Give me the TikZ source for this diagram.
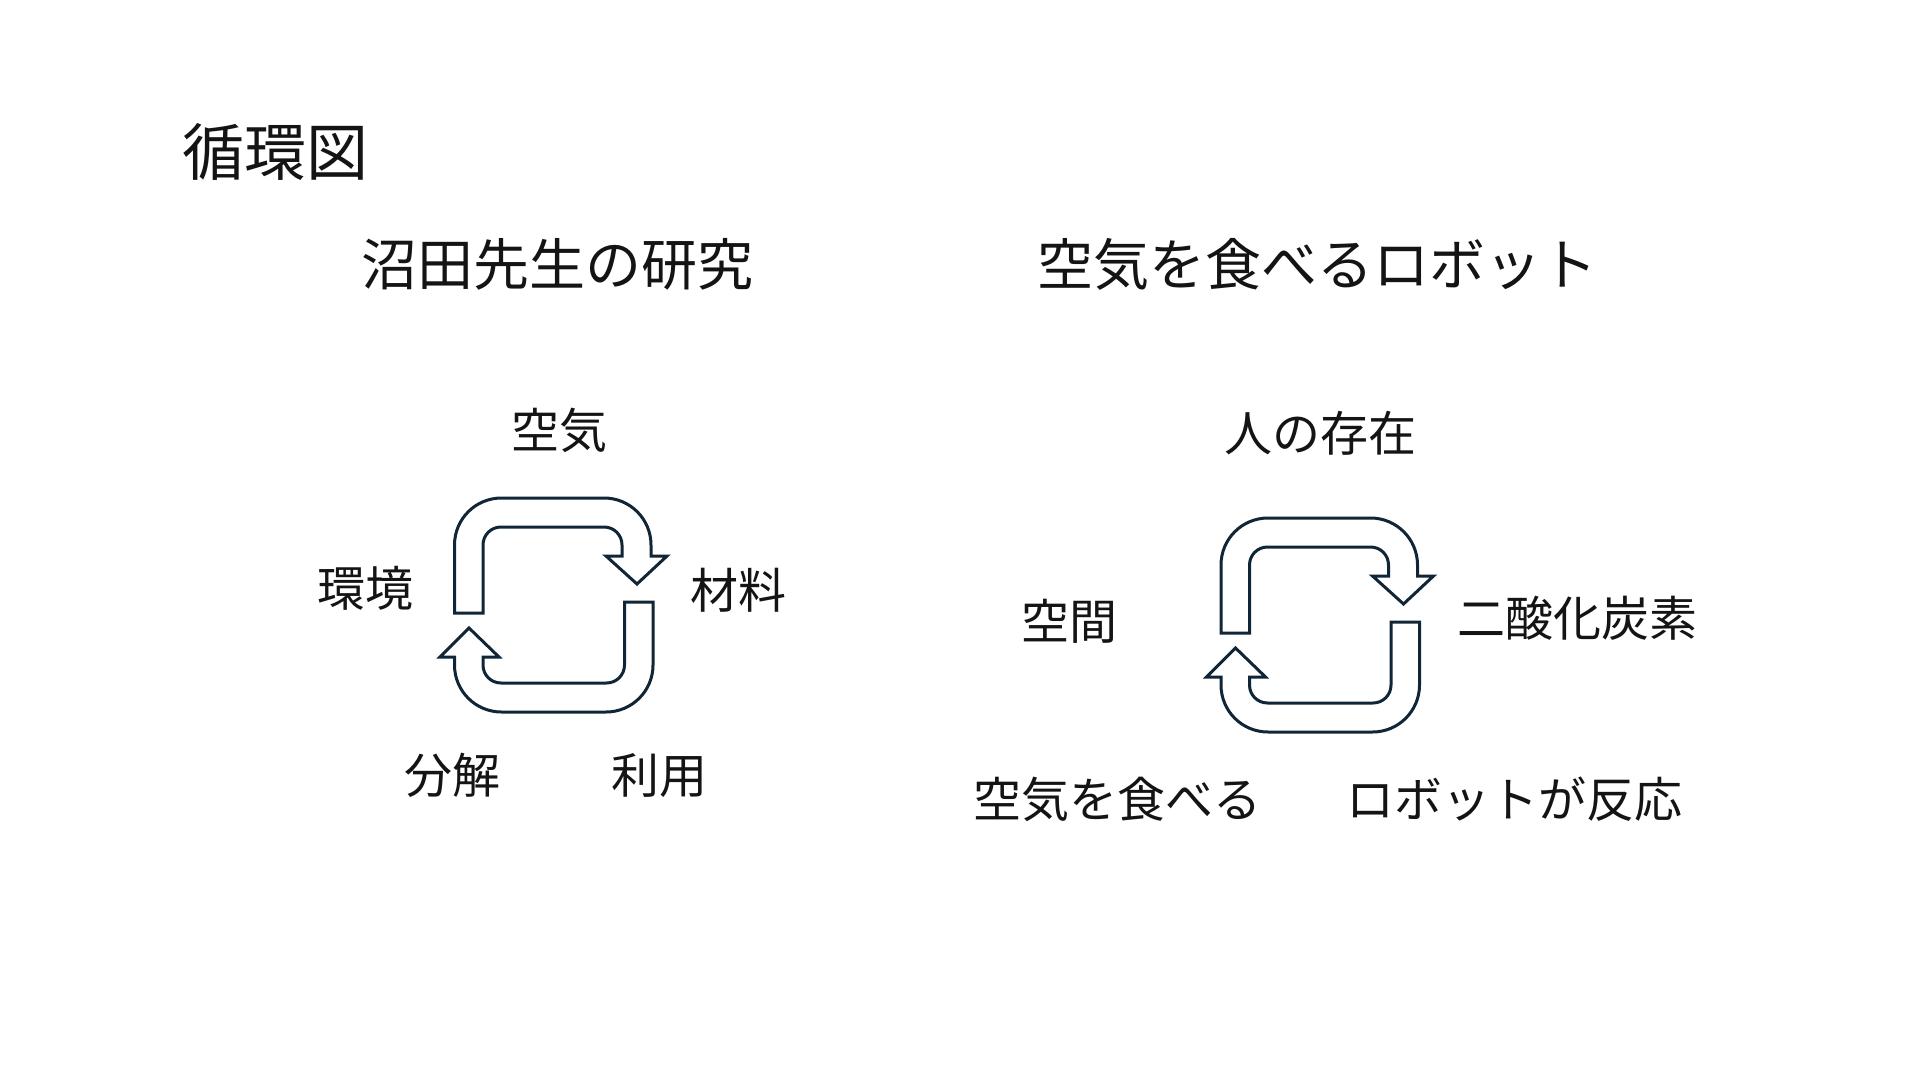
\documentclass[tikz,border=0pt]{standalone}
\usepackage{fontspec}
\setmainfont{Noto Sans CJK JP}
\definecolor{iconline}{RGB}{16,37,54}
\definecolor{txt}{RGB}{20,20,20}
\tikzset{
  lbl/.style={inner sep=0pt, anchor=center, text=txt, font=\fontsize{24pt}{28pt}\selectfont},
  ttl/.style={inner sep=0pt, anchor=center, text=txt, font=\fontsize{28pt}{32pt}\selectfont},
  head/.style={inner sep=0pt, anchor=center, text=txt, font=\fontsize{31pt}{36pt}\selectfont},
  iconpath/.style={draw=iconline, line width=1.5pt, line join=miter, fill=white}
}
\newcommand{\cycleicon}{%
  \path[iconpath] (-99,8) -- (-99,-60) .. controls (-99,-86) and (-78,-107) .. (-52,-107)
    -- (50.5,-107) .. controls (76.5,-107) and (97.5,-86) .. (97.5,-60)
    -- (97.5,-49) -- (113.5,-49) -- (83.5,-21) -- (52.5,-49) -- (68.5,-49)
    -- (68.5,-60) .. controls (68.5,-70) and (60.5,-78) .. (50.5,-78)
    -- (-52.5,-78) .. controls (-62.5,-78) and (-70.5,-70) .. (-70.5,-60)
    -- (-70.5,8) -- cycle;
  \path[iconpath] (71,-3) -- (71,60) .. controls (71,70) and (63,78) .. (53,78)
    -- (-52.5,78) .. controls (-62.5,78) and (-70.5,70) .. (-70.5,60)
    -- (-70.5,52) -- (-54.5,52) -- (-84.5,23) -- (-113.5,52) -- (-99,52)
    -- (-99,60) .. controls (-99,86) and (-78,107) .. (-52,107)
    -- (52.5,107) .. controls (78.5,107) and (99.5,86) .. (99.5,60)
    -- (99.5,-3) -- cycle;
}
\begin{document}
\begin{tikzpicture}[x=0.5pt, y=-0.5pt]
\useasboundingbox (0,0) rectangle (1920,1080);
\fill[white] (0,0) rectangle (1920,1080);

\node[head] (title) at (275,152) {循環図};
\node[ttl] (lefttitle) at (557,264) {沼田先生の研究};
\node[ttl] (righttitle) at (1317,264) {空気を食べるロボット};

% left cycle
\begin{scope}[shift={(553.5,605)}]
\cycleicon
\end{scope}
\node[lbl] (kuuki) at (559,430) {空気};
\node[lbl] (kankyo) at (365,588) {環境};
\node[lbl] (zairyo) at (738,590) {材料};
\node[lbl] (bunkai) at (452,775) {分解};
\node[lbl] (riyou) at (659,776) {利用};

% right cycle
\begin{scope}[shift={(1320,625)}]
\cycleicon
\end{scope}
\node[lbl] (hito) at (1320,433) {人の存在};
\node[lbl] (kukan) at (1069,621) {空間};
\node[lbl] (co2) at (1577,618) {二酸化炭素};
\node[lbl] (taberu) at (1117,799) {空気を食べる};
\node[lbl] (hannou) at (1514,799) {ロボットが反応};
\end{tikzpicture}
\end{document}
